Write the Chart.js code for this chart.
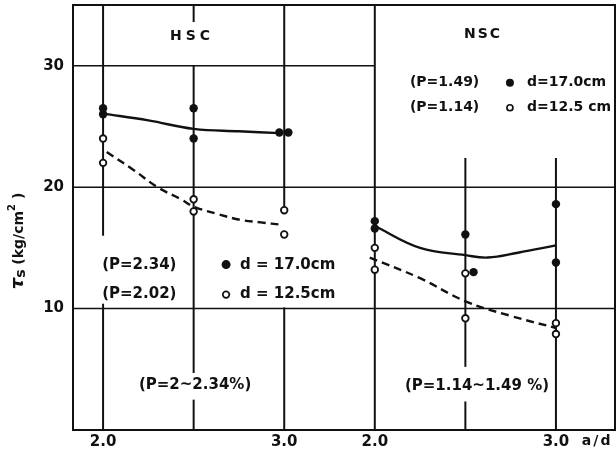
<html>
    <head>
        <title>Shear stress vs a/d</title>
        <meta charset="utf-8" />
        <style>
            body { margin: 0; background: #fff; }
            .chart-box { position: relative; width: 616px; height: 451px; }
        </style>
    </head>
    <body>
        <div class="chart-box">
            <canvas id="chart"></canvas>
        </div>

        <script src="https://cdn.jsdelivr.net/npm/chart.js"></script>

        <script>
        // shear stress tau_s (kg/cm2) against a/d, read per beam
        const hscFullX = [2.0, 2.0, 2.5, 2.5, 2.973, 3.023];
        const hscFullY = [26.5, 26.0, 26.5, 24.0, 24.5, 24.5];
        const hscOpenX = [2.0, 2.0, 2.5, 2.5, 3.0, 3.0];
        const hscOpenY = [24.0, 22.0, 19.0, 18.0, 18.1, 16.1];
        const nscFullX = [2.0, 2.0, 2.5, 2.545, 3.0, 3.0];
        const nscFullY = [17.2, 16.6, 16.1, 13.0, 18.6, 13.8];
        const nscOpenX = [2.0, 2.0, 2.5, 2.5, 3.0, 3.0];
        const nscOpenY = [15.0, 13.2, 12.9, 9.2, 8.8, 7.9];

        // hand drawn trend curves
        const hscFullFitX = [2.0, 2.25, 2.5, 2.75, 2.975];
        const hscFullFitY = [26.05, 25.5, 24.8, 24.6, 24.45];
        const hscOpenFitX = [2.02, 2.17, 2.30, 2.43, 2.50, 2.63, 2.76, 2.87, 2.99];
        const hscOpenFitY = [22.9, 21.4, 20.0, 19.0, 18.4, 17.8, 17.3, 17.1, 16.9];
        const nscFullFitX = [2.0, 2.25, 2.5, 2.624, 2.79, 3.0];
        const nscFullFitY = [16.8, 15.0, 14.4, 14.2, 14.6, 15.2];
        const nscOpenFitX = [1.972, 2.25, 2.5, 2.75, 3.0];
        const nscOpenFitY = [14.2, 12.5, 10.6, 9.4, 8.4];

        const adTicks = [2.0, 3.0];
        const stressTicks = [10, 20, 30];

        // NSC panel continues to the right of HSC on the same axis
        const NSC_SHIFT = 1.5;
        const X_MIN = 1.834;
        const X_MAX = 4.826;
        const Y_MAX = 35;
        const FONT = '"DejaVu Sans", sans-serif';

        function toPoints(xs, ys, shift) {
            return xs.map((x, i) => ({ x: x + (shift || 0), y: ys[i] }));
        }

        // frame lines inside the plot: [x1, y1, x2, y2, width]
        const gridSegments = [
            [X_MIN, 30, 3.5, 30, 1.5],
            [X_MIN, 20, X_MAX, 20, 1.5],
            [X_MIN, 10, X_MAX, 10, 1.5],
            [2.0, Y_MAX, 2.0, 16.0, 2],
            [2.0, 10.4, 2.0, 0, 2],
            [2.5, Y_MAX, 2.5, 33.6, 2],
            [2.5, 30, 2.5, 4.7, 2],
            [2.5, 2.5, 2.5, 0, 2],
            [3.0, Y_MAX, 3.0, 18.1, 2],
            [3.0, 10.1, 3.0, 0, 2],
            [3.5, Y_MAX, 3.5, 0, 2],
            [4.0, 22.4, 4.0, 5.2, 2],
            [4.0, 2.35, 4.0, 0, 2],
            [4.5, 22.4, 4.5, 0, 2]
        ];

        // annotations placed in axis units
        const notes = [
            { t: 'HSC', x: 2.48, y: 32.4, size: 14, spacing: 4 },
            { t: 'NSC', x: 4.092, y: 32.55, size: 14, spacing: 2 },
            { t: '(P=1.49)', x: 3.694, y: 28.6, size: 14, align: 'left' },
            { t: '(P=1.14)', x: 3.694, y: 26.54, size: 14, align: 'left' },
            { t: 'd=17.0cm', x: 4.34, y: 28.6, size: 14, align: 'left' },
            { t: 'd=12.5 cm', x: 4.34, y: 26.54, size: 14, align: 'left' },
            { t: '(P=2.34)', x: 1.995, y: 13.62, size: 15, align: 'left' },
            { t: '(P=2.02)', x: 1.995, y: 11.15, size: 15, align: 'left' },
            { t: 'd = 17.0cm', x: 2.756, y: 13.62, size: 15, align: 'left' },
            { t: 'd = 12.5cm', x: 2.756, y: 11.15, size: 15, align: 'left' },
            { t: '(P=2~2.34%)', x: 2.508, y: 3.66, size: 15 },
            { t: '(P=1.14~1.49 %)', x: 4.064, y: 3.58, size: 15 }
        ];

        // legend symbols: [x, y, radius, filled]
        const noteMarks = [
            [2.679, 13.62, 4.5, true],
            [2.679, 11.15, 3.3, false],
            [4.246, 28.6, 4, true],
            [4.246, 26.54, 3, false]
        ];

        function drawAxisTitle(ctx) {
            const parts = [
                { t: '\u03c4', f: 'italic bold 18px ' + FONT, dy: 0 },
                { t: 's', f: 'bold 14px ' + FONT, dy: 2 },
                { t: ' (kg/cm', f: 'bold 14px ' + FONT, dy: 0 },
                { t: '2', f: 'bold 10px ' + FONT, dy: -8 },
                { t: ' )', f: 'bold 14px ' + FONT, dy: 0 }
            ];
            ctx.save();
            ctx.translate(23, 241);
            ctx.rotate(-Math.PI / 2);
            ctx.textBaseline = 'alphabetic';
            ctx.textAlign = 'left';
            let total = 0;
            parts.forEach(p => { ctx.font = p.f; p.w = ctx.measureText(p.t).width; total += p.w; });
            let pos = -total / 2;
            parts.forEach(p => {
                ctx.font = p.f;
                ctx.fillText(p.t, pos, p.dy);
                pos += p.w;
            });
            ctx.restore();
        }

        const figurePlugin = {
            id: 'figure',
            beforeDatasetsDraw(chart) {
                const { ctx, chartArea: a, scales: { x, y } } = chart;
                ctx.save();
                ctx.strokeStyle = '#111';
                gridSegments.forEach(s => {
                    ctx.lineWidth = s[4];
                    ctx.beginPath();
                    ctx.moveTo(x.getPixelForValue(s[0]), y.getPixelForValue(s[1]));
                    ctx.lineTo(x.getPixelForValue(s[2]), y.getPixelForValue(s[3]));
                    ctx.stroke();
                });
                ctx.lineWidth = 2;
                ctx.strokeRect(a.left, a.top, a.right - a.left, a.bottom - a.top);
                ctx.restore();
            },
            afterDatasetsDraw(chart) {
                const { ctx, scales: { x, y } } = chart;
                ctx.save();
                ctx.fillStyle = '#111';
                ctx.strokeStyle = '#111';
                ctx.textBaseline = 'middle';
                notes.forEach(n => {
                    ctx.font = 'bold ' + n.size + 'px ' + FONT;
                    ctx.letterSpacing = (n.spacing || 0) + 'px';
                    ctx.textAlign = n.align || 'center';
                    const shift = n.align ? 0 : (n.spacing || 0) / 2;
                    ctx.fillText(n.t, x.getPixelForValue(n.x) + shift, y.getPixelForValue(n.y));
                });
                ctx.letterSpacing = '0px';
                noteMarks.forEach(m => {
                    ctx.beginPath();
                    ctx.arc(x.getPixelForValue(m[0]), y.getPixelForValue(m[1]), m[2], 0, Math.PI * 2);
                    if (m[3]) {
                        ctx.fill();
                    } else {
                        ctx.lineWidth = 1.7;
                        ctx.stroke();
                    }
                });
                // axis name next to the last tick
                ctx.font = 'bold 14px ' + FONT;
                ctx.textAlign = 'left';
                ctx.letterSpacing = '2px';
                ctx.fillText('a/d', x.getPixelForValue(4.643), y.bottom + 11);
                ctx.letterSpacing = '0px';
                drawAxisTitle(ctx);
                ctx.restore();
            }
        };

        // keep the plot box fixed, without label overflow padding
        function fixBox(size) {
            return s => {
                if (s.isHorizontal()) s.height = size; else s.width = size;
                s.paddingTop = 0;
                s.paddingBottom = 0;
                s.paddingLeft = 0;
                s.paddingRight = 0;
            };
        }

        const fullPoint = { pointRadius: 4.2, pointBackgroundColor: '#111', pointBorderWidth: 0, showLine: false, order: 1 };
        const openPoint = { pointRadius: 3.3, pointBackgroundColor: '#fff', pointBorderColor: '#111', pointBorderWidth: 1.8, showLine: false, order: 1 };
        const fitLine = { showLine: true, pointRadius: 0, borderColor: '#111', borderWidth: 2.4, tension: 0.4, fill: false, order: 2 };

        new Chart(document.getElementById('chart'), {
            type: 'scatter',
            data: {
                datasets: [
                    Object.assign({ label: 'HSC fit d=17.0', data: toPoints(hscFullFitX, hscFullFitY) }, fitLine),
                    Object.assign({ label: 'HSC fit d=12.5', data: toPoints(hscOpenFitX, hscOpenFitY), borderDash: [8, 5] }, fitLine),
                    Object.assign({ label: 'NSC fit d=17.0', data: toPoints(nscFullFitX, nscFullFitY, NSC_SHIFT) }, fitLine),
                    Object.assign({ label: 'NSC fit d=12.5', data: toPoints(nscOpenFitX, nscOpenFitY, NSC_SHIFT), borderDash: [8, 5] }, fitLine),
                    Object.assign({ label: 'HSC d=17.0', data: toPoints(hscFullX, hscFullY) }, fullPoint),
                    Object.assign({ label: 'HSC d=12.5', data: toPoints(hscOpenX, hscOpenY) }, openPoint),
                    Object.assign({ label: 'NSC d=17.0', data: toPoints(nscFullX, nscFullY, NSC_SHIFT) }, fullPoint),
                    Object.assign({ label: 'NSC d=12.5', data: toPoints(nscOpenX, nscOpenY, NSC_SHIFT) }, openPoint)
                ]
            },
            options: {
                responsive: true,
                maintainAspectRatio: false,
                animation: false,
                layout: { autoPadding: false, padding: { top: 5, right: 1, bottom: 0, left: 0 } },
                plugins: { legend: { display: false }, tooltip: { enabled: false } },
                scales: {
                    x: {
                        type: 'linear',
                        min: X_MIN,
                        max: X_MAX,
                        grid: { display: false, drawTicks: false },
                        border: { display: false },
                        afterBuildTicks: s => {
                            s.ticks = adTicks.concat(adTicks.map(v => v + NSC_SHIFT)).map(v => ({ value: v }));
                        },
                        afterFit: fixBox(21),
                        ticks: {
                            autoSkip: false,
                            maxRotation: 0,
                            padding: 3,
                            color: '#111',
                            font: { family: FONT, size: 15, weight: 'bold' },
                            callback: v => (v > 3.25 ? v - NSC_SHIFT : v).toFixed(1)
                        }
                    },
                    y: {
                        min: 0,
                        max: Y_MAX,
                        grid: { display: false, drawTicks: false },
                        border: { display: false },
                        afterBuildTicks: s => {
                            s.ticks = stressTicks.map(v => ({ value: v }));
                        },
                        afterFit: fixBox(73),
                        ticks: {
                            padding: 9,
                            color: '#111',
                            font: { family: FONT, size: 15, weight: 'bold' }
                        }
                    }
                }
            },
            plugins: [figurePlugin]
        });
        </script>
    </body>
</html>
